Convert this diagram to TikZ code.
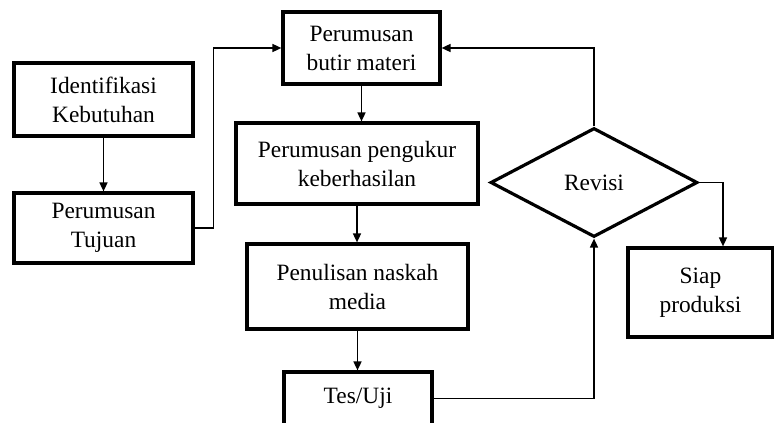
\documentclass[tikz,border=0pt]{standalone}
\usepackage{fontspec}
\setmainfont{Liberation Serif}
\usetikzlibrary{arrows.meta, shapes.geometric}

\begin{document}
\begin{tikzpicture}[x=1pt, y=-1pt,
        box/.style={rectangle, draw, line width=3.2pt, align=center, inner sep=0pt,
            font=\fontsize{23.4}{29}\selectfont},
        choice/.style={diamond, draw, line width=3.2pt, inner sep=0pt, aspect=1.9,
            font=\fontsize{23.4}{29}\selectfont},
        flow/.style={->, line width=1.6pt},
        >={Triangle[length=9pt, width=8pt]}]
    \useasboundingbox (0,0) rectangle (774,423);

    \node[box, minimum width=179pt, minimum height=73pt] (ide) at (103.5,99.5) {Identifikasi\\Kebutuhan};
    \node[box, minimum width=179pt, minimum height=70pt] (tuj) at (103.5,228) {Perumusan\\Tujuan};
    \node[box, minimum width=157pt, minimum height=72pt] (but) at (361.5,48) {Perumusan\\butir materi};
    \node[box, minimum width=242pt, minimum height=81pt] (uku) at (357,163.5) {Perumusan pengukur\\keberhasilan};
    \node[box, minimum width=221pt, minimum height=85pt] (tul) at (357.5,286.5) {Penulisan naskah\\media};
    \node[box, minimum width=148pt, minimum height=53pt] (tes) at (358,398.5) {Tes/Uji};
    \node[choice, minimum width=207pt, minimum height=109pt] (rev) at (594,182.5) {Revisi};
    \node[box, minimum width=145pt, minimum height=89pt] (siap) at (700.5,292.5) {Siap\\produksi};

    \draw[flow] (ide) -- (tuj);
    \draw[flow] (tuj.east) -- ++(19,0) |- (but.west);
    \draw[flow] (but) -- (but |- uku.north);
    \draw[flow] (uku) -- (uku |- tul.north);
    \draw[flow] (tul) -- (tul |- tes.north);
    \draw[flow] (rev.north) |- (but.east);
    \draw[flow] (tes.east) -| (rev.south);
    \draw[flow] (rev.east) -| ([xshift=22.5pt]siap.north);

\end{tikzpicture}
\end{document}
